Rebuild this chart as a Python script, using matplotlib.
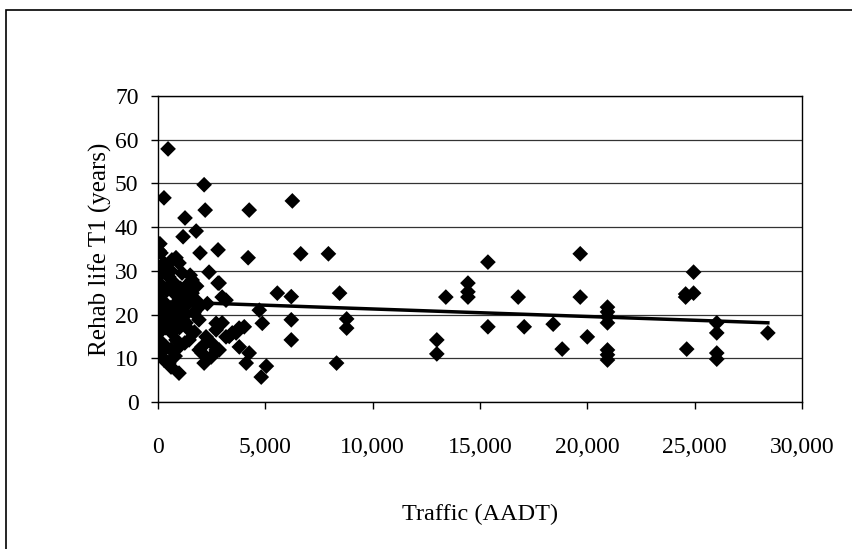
import matplotlib.pyplot as plt
from matplotlib.patches import Rectangle
from matplotlib.ticker import FuncFormatter

# Traffic (AADT) and rehab life T1 (years)
traffic = [
    470, 2150, 280, 2200, 4250, 6260, 1260, 1170, 1780, 90, 50, 1960, 2800,
    4200, 6650, 7940, 2380, 2800, 5560, 6210, 8460, 4720, 4860, 6210, 8790,
    8790, 6210, 2710, 4020, 3640, 3320, 3790, 4250, 4110, 5050, 4810, 2150,
    2480, 2710, 1920, 980, 610, 280, 1450, 8320, 12990, 12990, 13410, 15370,
    14440, 14440, 14440, 15370, 16780, 17060, 18410, 18830, 19670, 19670,
    20000, 20940, 20940, 20940, 20940, 20940, 20940, 20940, 24950, 24580,
    24950, 24580, 24630, 26030, 26030, 26030, 26030, 28410,
    140, 280, 650, 980, 190, 510, 1120, 1450, 1590, 510, 750, 190, 50, 980,
    1120, 1590, 1770, 1910, 280, 280, 1120, 1310, 1450, 50, 50, 650, 840,
    2710, 2240, 2050, 50, 190, 980, 2050, 510, 420, 1210, 750, 1680, 510,
    1910, 50, 140, 50, 840, 2850, 2990, 3170, 2990, 3170, 3460, 3780, 2850,
    1120, 300, 600, 900, 1300, 1600, 400, 1000,
    350, 700, 1050, 1400, 250, 600, 850, 1250, 1700, 350, 800, 1500, 100,
    450, 700, 2300, 2500, 1800,
]
rehab_life = [
    57.9, 49.7, 46.7, 43.9, 43.9, 46.0, 42.1, 37.8, 39.1, 36.2, 34.6, 34.1,
    34.8, 33.0, 33.9, 33.9, 29.7, 27.2, 24.9, 24.1, 24.9, 21.0, 18.0, 18.8,
    19.0, 16.9, 14.2, 18.0, 17.2, 15.8, 15.0, 12.6, 11.2, 8.9, 8.2, 5.7, 8.9,
    10.3, 11.9, 11.9, 6.6, 8.0, 9.6, 14.2, 8.9, 14.2, 11.0, 24.0, 32.0, 27.2,
    25.2, 24.0, 17.2, 24.0, 17.2, 17.8, 12.1, 33.9, 24.0, 14.9, 21.7, 20.6,
    19.5, 18.1, 11.9, 10.8, 9.6, 29.7, 24.7, 24.9, 24.0, 12.1, 18.1, 15.8,
    11.2, 9.8, 15.8,
    34.1, 31.8, 32.5, 31.8, 29.5, 28.6, 29.5, 27.2, 27.9, 26.3, 24.9, 23.3,
    21.7, 23.3, 21.7, 24.9, 23.3, 21.7, 19.5, 18.1, 19.5, 18.1, 16.5, 15.8,
    14.2, 15.8, 14.2, 16.5, 14.9, 12.6, 11.9, 10.3, 12.6, 11.2, 8.9, 25.6,
    25.6, 20.4, 20.4, 17.6, 18.8, 18.8, 25.6, 23.3, 33.0, 27.2, 24.0, 23.3,
    18.1, 14.9, 15.8, 16.9, 11.9, 24.0, 30.5, 30.0, 22.5, 20.0, 26.0, 12.5,
    17.0,
    22.0, 27.5, 26.0, 22.5, 13.0, 12.0, 19.0, 13.5, 16.0, 17.0, 10.5, 29.0,
    27.0, 30.5, 21.0, 22.5, 13.5, 26.5,
]

# linear trend line
trend_intercept = 23.0
trend_slope = -0.000172

plt.rcParams['font.family'] = ['Liberation Serif', 'DejaVu Serif']

fig = plt.figure(figsize=(8.52, 5.49), dpi=100)
ax = fig.add_axes([0.1854, 0.2678, 0.7559, 0.5573])

ax.scatter(traffic, rehab_life, marker='D', s=64, color='black',
           edgecolors='none', zorder=3)
x_line = [0, max(traffic)]
y_line = [trend_intercept + trend_slope * v for v in x_line]
ax.plot(x_line, y_line, color='black', linewidth=2.5, zorder=4)

ax.set_xlim(0, 30000)
ax.set_ylim(0, 70)
ax.set_xticks(range(0, 30001, 5000))
ax.set_yticks(range(0, 71, 10))
ax.xaxis.set_major_formatter(FuncFormatter(lambda v, p: f'{int(v):,}'))
ax.yaxis.grid(True, color='#333333', linewidth=0.9)
ax.set_axisbelow(True)
ax.tick_params(axis='both', direction='out', length=5, width=1,
               labelsize=17, colors='black')
ax.tick_params(axis='x', pad=20)
ax.tick_params(axis='y', pad=9)
for sp in ax.spines.values():
    sp.set_linewidth(1)
    sp.set_color('black')

ax.set_xlabel('Traffic (AADT)', fontsize=17.5, labelpad=33)
ax.set_ylabel('Rehab life T1 (years)', fontsize=18, labelpad=2)

fig.add_artist(Rectangle((6 / 852, -0.5), 2, 1.5 - 10 / 549,
                         transform=fig.transFigure, fill=False,
                         edgecolor='black', linewidth=1.2))

fig.savefig('out.png', dpi=100)
